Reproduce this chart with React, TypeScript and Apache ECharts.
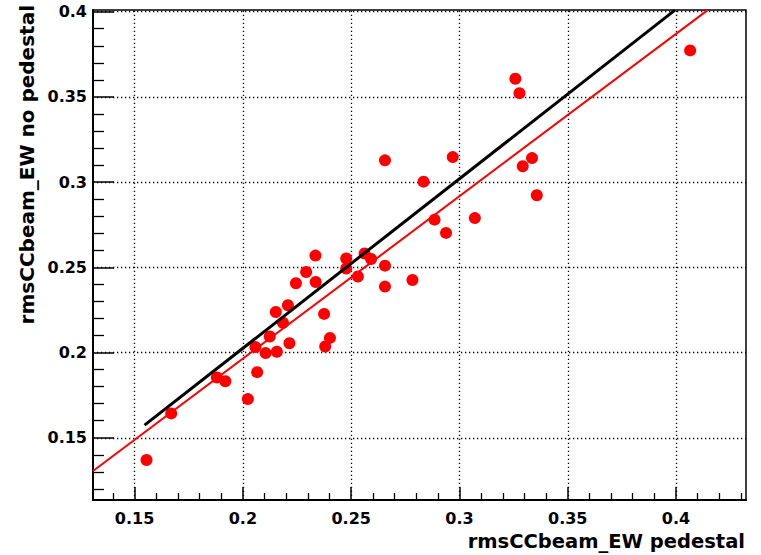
import React, { useEffect, useRef } from "react";
import * as echarts from "echarts";

const xValues = [
  0.1555, 0.1669, 0.188, 0.1919, 0.2023, 0.2066, 0.2058, 0.2105, 0.2157, 0.2124,
  0.2152, 0.2185, 0.2208, 0.2215, 0.2245, 0.2292, 0.2335, 0.2336, 0.2375, 0.238,
  0.2402, 0.2477, 0.2477, 0.2531, 0.2562, 0.2592, 0.2656, 0.2656, 0.2656, 0.2783,
  0.2834, 0.2885, 0.2938, 0.2969, 0.3071, 0.3258, 0.3277, 0.3292, 0.3335, 0.3357,
  0.4065,
];
const yValues = [
  0.137, 0.1643, 0.1854, 0.1832, 0.1727, 0.1885, 0.2032, 0.1997, 0.2005, 0.2094,
  0.2238, 0.2175, 0.2278, 0.2055, 0.2407, 0.2473, 0.2569, 0.2414, 0.2227, 0.2036,
  0.2086, 0.2552, 0.2493, 0.2446, 0.2581, 0.2549, 0.3128, 0.251, 0.2387, 0.2426,
  0.3003, 0.278, 0.2702, 0.3147, 0.2789, 0.3607, 0.3522, 0.3093, 0.3141, 0.2923,
  0.3773,
];

// fit lines (endpoints)
const blackLineX = [0.1546, 0.3995];
const blackLineY = [0.1574, 0.4009];
const redLineX = [0.1308, 0.4146];
const redLineY = [0.1305, 0.4009];

const xMajorTicks = [0.15, 0.2, 0.25, 0.3, 0.35, 0.4];
const yMajorTicks = [0.15, 0.2, 0.25, 0.3, 0.35, 0.4];
const xMinorTicks = [
  0.14, 0.16, 0.17, 0.18, 0.19, 0.21, 0.22, 0.23, 0.24, 0.26, 0.27, 0.28, 0.29,
  0.31, 0.32, 0.33, 0.34, 0.36, 0.37, 0.38, 0.39, 0.41, 0.42, 0.43,
];
const yMinorTicks = [
  0.12, 0.13, 0.14, 0.16, 0.17, 0.18, 0.19, 0.21, 0.22, 0.23, 0.24, 0.26, 0.27,
  0.28, 0.29, 0.31, 0.32, 0.33, 0.34, 0.36, 0.37, 0.38, 0.39,
];

const xMin = 0.1308;
const xMax = 0.4323;
const yMin = 0.1135;
const yMax = 0.401;

const xTitle = "rmsCCbeam_EW pedestal";
const yTitle = "rmsCCbeam_EW no pedestal";

const FONT = "DejaVu Sans";

export default function App() {
  const ref = useRef<HTMLDivElement>(null);
  useEffect(() => {
    if (!ref.current) return;
    const chart = echarts.init(ref.current, undefined, { renderer: "svg" });
    const points = xValues.map((x, i) => [x, yValues[i]]);
    const gridMarks = [
      ...xMajorTicks.map((v) => ({ xAxis: v })),
      ...yMajorTicks.map((v) => ({ yAxis: v })),
    ];
    const labelStyle = {
      color: "#000",
      fontFamily: FONT,
      fontWeight: "bold" as const,
      fontSize: 16,
    };
    chart.setOption({
      animation: false,
      backgroundColor: "#fff",
      grid: {
        left: 93,
        top: 10,
        width: 653,
        height: 490,
        show: true,
        borderColor: "#000",
        borderWidth: 1.5,
        backgroundColor: "transparent",
      },
      xAxis: [
        {
          type: "value",
          min: xMin,
          max: xMax,
          position: "bottom",
          axisLine: { show: true, lineStyle: { color: "#000", width: 2 } },
          axisTick: {
            show: true,
            inside: true,
            length: 13,
            customValues: xMajorTicks,
            lineStyle: { color: "#000", width: 1.5 },
          },
          axisLabel: { ...labelStyle, margin: 10, customValues: xMajorTicks },
          splitLine: { show: false },
        },
        {
          type: "value",
          min: xMin,
          max: xMax,
          position: "bottom",
          offset: 0,
          axisLine: { show: false },
          axisTick: {
            show: true,
            inside: true,
            length: 7,
            customValues: xMinorTicks,
            lineStyle: { color: "#000", width: 1.3 },
          },
          axisLabel: { show: false },
          splitLine: { show: false },
        },
      ],
      yAxis: [
        {
          type: "value",
          min: yMin,
          max: yMax,
          position: "left",
          axisLine: { show: true, lineStyle: { color: "#000", width: 2 } },
          axisTick: {
            show: true,
            inside: true,
            length: 21,
            customValues: yMajorTicks,
            lineStyle: { color: "#000", width: 1.5 },
          },
          axisLabel: { ...labelStyle, margin: 6, customValues: yMajorTicks },
          splitLine: { show: false },
        },
        {
          type: "value",
          min: yMin,
          max: yMax,
          position: "left",
          offset: 0,
          axisLine: { show: false },
          axisTick: {
            show: true,
            inside: true,
            length: 11,
            customValues: yMinorTicks,
            lineStyle: { color: "#000", width: 1.3 },
          },
          axisLabel: { show: false },
          splitLine: { show: false },
        },
      ],
      series: [
        {
          type: "scatter",
          xAxisIndex: 0,
          yAxisIndex: 0,
          data: points,
          symbol: "circle",
          symbolSize: 12,
          itemStyle: { color: "#ff0000", opacity: 1 },
          z: 3,
          markLine: {
            silent: true,
            symbol: "none",
            label: { show: false },
            lineStyle: { color: "#000", width: 1.3, type: [1.3, 2.7] },
            data: gridMarks,
            z: 1,
          },
        },
        {
          type: "line",
          xAxisIndex: 0,
          yAxisIndex: 0,
          data: redLineX.map((x, i) => [x, redLineY[i]]),
          showSymbol: false,
          symbol: "none",
          clip: true,
          lineStyle: { color: "#ff0000", width: 2 },
          z: 4,
        },
        {
          type: "line",
          xAxisIndex: 0,
          yAxisIndex: 0,
          data: blackLineX.map((x, i) => [x, blackLineY[i]]),
          showSymbol: false,
          symbol: "none",
          clip: true,
          lineStyle: { color: "#000", width: 3 },
          z: 5,
        },
      ],
      graphic: [
        {
          type: "text",
          right: 16,
          top: 531,
          style: {
            text: xTitle,
            font: `bold 19.5px "${FONT}"`,
            fill: "#000",
          },
        },
        {
          type: "text",
          x: 27,
          y: 5,
          rotation: Math.PI / 2,
          style: {
            text: yTitle,
            font: `bold 20px "${FONT}"`,
            fill: "#000",
            align: "right",
            verticalAlign: "middle",
          },
        },
      ],
    });
    return () => chart.dispose();
  }, []);
  return (
    <div
      ref={ref}
      style={{
        position: "absolute",
        left: 0,
        top: 0,
        width: 761,
        height: 555,
        background: "#fff",
      }}
    />
  );
}
